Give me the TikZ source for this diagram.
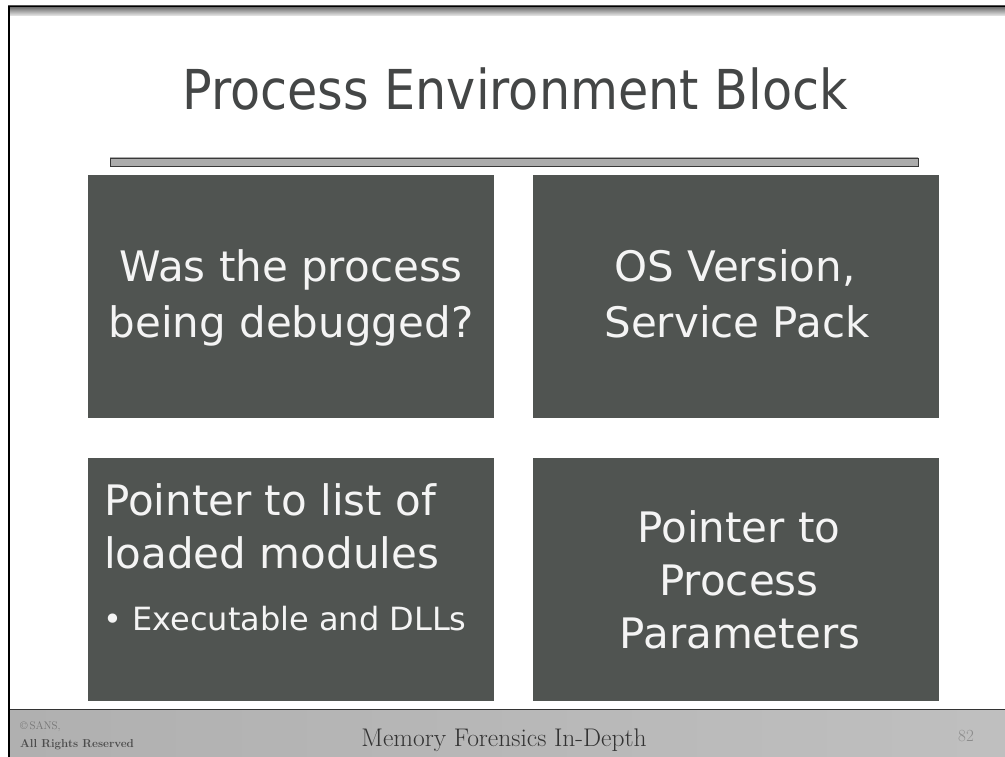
\documentclass[tikz,border=0pt]{standalone}
\usepackage{fontspec}
\newfontfamily\slidefont{DejaVu Sans}
\newfontfamily\headfont[FakeStretch=0.895]{DejaVu Sans}
\definecolor{panelgray}{RGB}{80,84,81}
\definecolor{headgray}{RGB}{68,70,70}
\definecolor{paneltext}{RGB}{244,244,244}
\tikzset{
  panel/.style={fill=panelgray, draw=none, inner sep=0pt, anchor=north west,
    minimum width=406pt, minimum height=243pt},
  panelline/.style={text=paneltext, inner sep=0pt, anchor=base,
    font={\slidefont\fontsize{42pt}{50pt}\selectfont}},
  subline/.style={text=paneltext, inner sep=0pt, anchor=base west,
    font={\slidefont\fontsize{32pt}{38pt}\selectfont}},
  foottext/.style={inner sep=0pt, text=black!80}
}
\begin{document}
\begin{tikzpicture}[x=1pt, y=-1pt]
  \useasboundingbox (0,0) rectangle (1005,757);
  \fill[white] (0,0) rectangle (1005,757);

  % slide frame: top bar and left edge
  \shade[top color=gray!75!black, bottom color=gray!15] (8,6) rectangle (1005,16);
  \draw[black, line width=1.2pt] (8,6.6) -- (1005,6.6);
  \draw[black, line width=2pt] (9,6) -- (9,757);

  % title and rule
  \node[inner sep=0pt, anchor=base, text=headgray,
        font={\headfont\fontsize{55pt}{60pt}\selectfont}] (title) at (515,110)
        {Process Environment Block};
  \shade[top color=gray!65, middle color=gray!8, bottom color=gray!65] (110,158) rectangle (918,166);
  \draw[gray!45!black, line width=0.8pt] (110,158) rectangle (918,166);

  % four panels
  \node[panel] (pdebug)  at (88,175)  {};
  \node[panel] (pos)     at (533,175) {};
  \node[panel] (pmods)   at (88,458)  {};
  \node[panel] (pparams) at (533,458) {};

  % panel texts
  \node[panelline] (debugA) at (291,281) {Was the process};
  \node[panelline] (debugB) at (291,337) {being debugged?};

  \node[panelline] (osA) at (735,281) {OS Version,};
  \node[panelline] (osB) at (737,337) {Service Pack};

  \node[panelline, anchor=base west] (modsA) at (104,515) {Pointer to list of};
  \node[panelline, anchor=base west] (modsB) at (104,568) {loaded modules};
  \node[subline] (modsC) at (103,630) {\textbullet\ Executable and DLLs};

  \node[panelline] (parA) at (739,542) {Pointer to};
  \node[panelline] (parB) at (739,595) {Process};
  \node[panelline] (parC) at (740,648) {Parameters};

  % footer band
  \shade[left color=gray!62, middle color=gray!36, right color=gray!50] (10,710) rectangle (1005,757);
  \draw[gray!40!black, line width=0.8pt] (10,709.5) -- (1005,709.5);
  \node[foottext, anchor=base west, text=black!55, font={\fontsize{11pt}{13pt}\selectfont}]
        (copy) at (20,729) {\textcopyright\,SANS,};
  \node[foottext, anchor=base west, text=black!70, font={\fontsize{11.5pt}{13pt}\selectfont\bfseries}]
        (rights) at (20,747) {All Rights Reserved};
  \node[foottext, anchor=base, font={\fontsize{25.5pt}{30pt}\selectfont}]
        (course) at (504,746) {Memory Forensics In-Depth};
  \node[foottext, anchor=base, text=black!45, font={\fontsize{17pt}{19pt}\selectfont}]
        (page) at (966,741) {82};
\end{tikzpicture}
\end{document}
